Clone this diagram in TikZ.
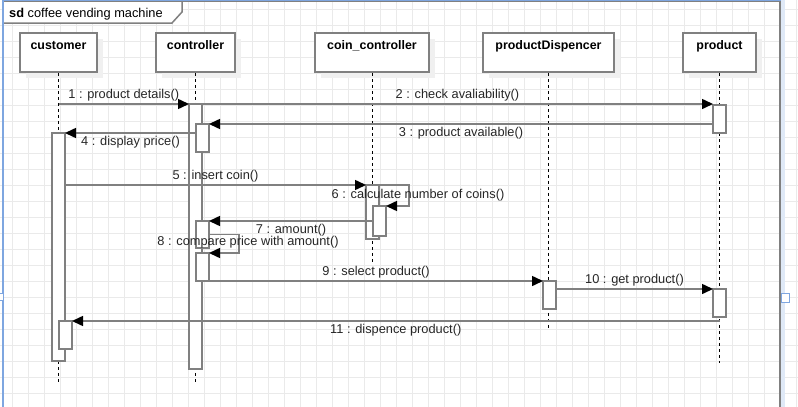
\documentclass[tikz,border=0pt]{standalone}
\usepackage{fontspec}
\setmainfont{Liberation Sans}
\usetikzlibrary{arrows.meta,shadows}
\definecolor{umlgray}{HTML}{808080}
\definecolor{gridgray}{HTML}{EAEAEA}
\definecolor{selblue}{HTML}{7EA6E0}
\begin{document}
\begin{tikzpicture}[x=1pt,y=-1pt,font=\fontsize{12.8}{15}\selectfont]
	\tikzstyle{head}=[draw=umlgray,line width=1.5pt,fill=white,inner xsep=2pt,inner ysep=1pt,text height=15pt,text depth=22pt,font=\fontsize{12.4}{14}\selectfont\bfseries,drop shadow={shadow xshift=6pt,shadow yshift=-6pt,fill=black!6,opacity=1}]
	\tikzstyle{act}=[draw=umlgray,line width=1.5pt,fill=white,minimum width=13pt,inner sep=0,outer sep=0]
	\tikzstyle{life}=[black,line width=0.8pt,dash pattern=on 3pt off 3pt]
	\tikzstyle{msg}=[draw=umlgray,line width=1.5pt,-{Triangle[length=11pt,width=10pt,color=black]}]
	\tikzstyle{lbl}=[inner sep=2pt,text=black!85]
	
	\useasboundingbox (0,0) rectangle (798,407);
	
	% grid
	\foreach \x in {12,28,...,796} \draw[gridgray,line width=0.8pt] (\x,0) -- (\x,407);
	\foreach \y in {9,25,...,405} \draw[gridgray,line width=0.8pt] (0,\y) -- (798,\y);
	
	% frame
	\draw[umlgray,line width=1.5pt] (3,1) rectangle (780,440);
	\draw[umlgray,line width=1.5pt,fill=white] (3,1) -- (182,1) -- (182,12) -- (172,23) -- (3,23);
	\node[anchor=base west,inner sep=0] (title) at (9,17) {\textbf{sd}\ coffee vending machine};
	\draw[selblue,line width=1.5pt] (3,407) -- (3,0.7) -- (781,0.7);
	\draw[selblue!25,line width=4pt] (783,0) -- (783,407);
	\draw[selblue,line width=1pt,fill=white] (-4,293) rectangle (3,300);
	\draw[selblue,line width=1pt,fill=white] (781,293) rectangle (789,302);
	
	% lifeline heads
	\node[head,minimum width=77pt] (cust) at (58.5,52.5) {customer};
	\node[head,minimum width=79pt] (ctrl) at (195.5,52.5) {controller};
	\node[head,minimum width=114pt] (coin) at (372,52.5) {coin\_controller};
	\node[head,minimum width=131pt] (disp) at (548.5,52.5) {productDispencer};
	\node[head,minimum width=73pt] (prod) at (719.5,52.5) {product};
	
	\coordinate (custE) at (cust.south |- 0,382);
	\coordinate (ctrlE) at (ctrl.south |- 0,382);
	\coordinate (coinE) at (coin.south |- 0,262);
	\coordinate (dispE) at (disp.south |- 0,328);
	\coordinate (prodE) at (prod.south |- 0,363);
	
	\draw[life] (cust.south) -- (custE);
	\draw[life] (ctrl.south) -- (ctrlE);
	\draw[life] (coin.south) -- (coinE);
	\draw[life] (disp.south) -- (dispE);
	\draw[life] (prod.south) -- (prodE);
	
	% activations
	\node[act,minimum height=228pt] (custA) at (58.5,247) {};
	\node[act,minimum height=28pt] (custB) at (65.5,335) {};
	\node[act,minimum height=265pt] (ctrlA) at (195.5,236.5) {};
	\node[act,minimum height=28pt] (ctrlB) at (202.5,138) {};
	\node[act,minimum height=27pt] (ctrlC) at (202.5,234.5) {};
	\node[act,minimum height=28pt] (ctrlD) at (202.5,267) {};
	\node[act,minimum height=54pt] (coinA) at (372.5,212) {};
	\node[act,minimum height=30pt] (coinB) at (379.5,221) {};
	\node[act,minimum height=28pt] (dispA) at (549.5,295) {};
	\node[act,minimum height=28pt] (prodA) at (719.5,119) {};
	\node[act,minimum height=28pt] (prodB) at (719.5,303) {};
	
	% messages
	\draw[msg] (cust.south |- ctrlA.north) -- node[lbl,above]{1 : product details()} (ctrlA.north west);
	\draw[msg] (ctrlA.north east) -- node[lbl,above]{2 : check avaliability()} (ctrlA.north east -| prodA.west);
	\draw[msg] (prodA.west |- ctrlB.north) -- node[lbl,below]{3 : product available()} (ctrlB.north east);
	\draw[msg] (ctrlB.west |- custA.north) -- node[lbl,below]{4 : display price()} (custA.north east);
	\draw[msg] (custA.east |- coinA.north) -- node[lbl,above]{5 : insert coin()} (coinA.north west);
	\draw[msg] (coinA.north east) -- ++(30,0) |- node[lbl,pos=0.25,xshift=9pt]{6 : calculate number of coins()} (coinB.north east);
	\draw[msg] (coinB.west |- ctrlC.north) -- node[lbl,below]{7 : amount()} (ctrlC.north east);
	\draw[msg] (ctrlC.east) -- ++(30,0) |- node[lbl,pos=0.25,xshift=9pt,yshift=2pt]{8 : compare price with amount()} (ctrlD.north east);
	\draw[msg] (ctrlD.south east) -- node[lbl,above]{9 : select product()} (ctrlD.south east -| dispA.west);
	\draw[msg] (dispA.east |- prodB.north) -- node[lbl,above]{10 : get product()} (prodB.north west);
	\draw[msg] (prod.south |- custB.north) -- node[lbl,below]{11 : dispence product()} (custB.north east);
\end{tikzpicture}
\end{document}
